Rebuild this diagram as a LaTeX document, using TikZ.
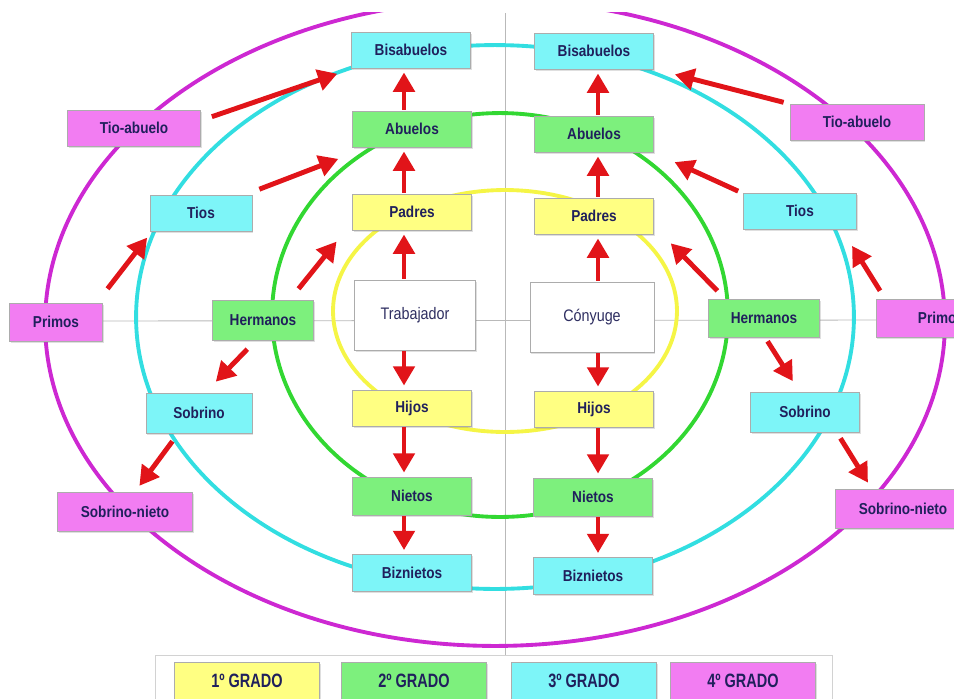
\documentclass[tikz,border=0pt]{standalone}
\usepackage{fontspec}
\setmainfont{Liberation Sans}
\newfontfamily\kinfont[FakeStretch=0.86]{Liberation Sans}
\newfontfamily\legfont[FakeStretch=0.75]{Liberation Sans}
\usetikzlibrary{arrows.meta,shadows}

\definecolor{txtnavy}{RGB}{32,32,92}
\definecolor{fillone}{RGB}{255,255,130}
\definecolor{filltwo}{RGB}{125,240,125}
\definecolor{fillthree}{RGB}{125,245,248}
\definecolor{fillfour}{RGB}{242,125,242}
\definecolor{ringone}{RGB}{245,245,70}
\definecolor{ringtwo}{RGB}{50,215,50}
\definecolor{ringthree}{RGB}{50,222,225}
\definecolor{ringfour}{RGB}{205,40,210}
\definecolor{arrowred}{RGB}{225,20,25}

\tikzset{
    kin/.style={draw=gray!65, line width=0.5pt, minimum width=2.38cm, minimum height=0.72cm,
        inner sep=1pt, text=txtnavy, font=\kinfont\bfseries\fontsize{9}{10}\selectfont,
        drop shadow={shadow xshift=0.7pt, shadow yshift=-1pt, opacity=0.25}},
    gradeone/.style={kin, fill=fillone},
    gradetwo/.style={kin, fill=filltwo},
    gradethree/.style={kin, fill=fillthree},
    gradefour/.style={kin, fill=fillfour},
    egobox/.style={kin, fill=white, minimum width=2.42cm, minimum height=1.4cm,
        font=\kinfont\fontsize{9.5}{11}\selectfont, text=txtnavy!85!gray},
    ringline/.style={line width=2.2pt},
    rel/.style={draw=arrowred, line width=2.8pt, -{Triangle[length=11pt,width=12pt]},
        shorten >=0.08cm, shorten <=0.02cm},
    axisline/.style={draw=gray!55, line width=0.5pt},
}

\begin{document}
\begin{tikzpicture}[x=0.02cm, y=-0.02cm]
    \useasboundingbox (0,0) rectangle (954,698);

    % --- guide lines ---
    \coordinate (axtop) at (505,13);
    \coordinate (axbot) at (505,655);
    \coordinate (axleft) at (102,321);
    \coordinate (axright) at (876,320);
    \coordinate (colL) at (404,0);
    \coordinate (colR) at (598,0);
    \draw[axisline] (axtop) -- (axbot);
    \draw[axisline] (axleft) -- (axright);

    % --- degree rings ---
    \begin{scope}
        \clip (0,12) rectangle (954,698);
        \draw[ringline, ringfour] (495,323) ellipse [x radius=9cm, y radius=6.46cm];
    \end{scope}
    \draw[ringline, ringthree] (495,317) ellipse [x radius=7.18cm, y radius=5.44cm];
    \draw[ringline, ringtwo] (500,315) ellipse [x radius=4.56cm, y radius=4.04cm];
    \draw[ringline, ringone] (505,311) ellipse [x radius=3.44cm, y radius=2.42cm];

    % --- relatives ---
    \node[gradethree] (bisL) at (411,50) {Bisabuelos};
    \node[gradethree] (bisR) at (594,51) {Bisabuelos};
    \node[gradefour, minimum width=2.66cm] (tioL) at (134,128) {Tio-abuelo};
    \node[gradefour, minimum width=2.68cm] (tioR) at (857,122) {Tio-abuelo};
    \node[gradetwo] (abuL) at (412,129) {Abuelos};
    \node[gradetwo] (abuR) at (594,134) {Abuelos};
    \node[gradethree, minimum width=2.04cm] (tiosL) at (201,213) {Tios};
    \node[gradethree, minimum width=2.26cm] (tiosR) at (800,211) {Tios};
    \node[gradeone] (padL) at (412,212) {Padres};
    \node[gradeone] (padR) at (594,216) {Padres};
    \node[gradefour, minimum width=1.86cm, minimum height=0.76cm] (primL) at (56,322) {Primos};
    \node[gradefour, minimum width=2.6cm, minimum height=0.76cm] (primR) at (941,318) {Primos};
    \node[gradetwo, minimum width=2.02cm, minimum height=0.8cm] (herL) at (263,320) {Hermanos};
    \node[gradetwo, minimum width=2.22cm, minimum height=0.76cm] (herR) at (764,318) {Hermanos};
    \node[egobox] (trab) at (415,315) {Trabajador};
    \node[egobox, minimum width=2.48cm] (cony) at (592,317) {Cónyuge};
    \node[gradeone] (hijL) at (412,408) {Hijos};
    \node[gradeone] (hijR) at (594,409) {Hijos};
    \node[gradethree, minimum width=2.12cm, minimum height=0.8cm] (sobL) at (199,413) {Sobrino};
    \node[gradethree, minimum width=2.18cm, minimum height=0.8cm] (sobR) at (805,412) {Sobrino};
    \node[gradefour, minimum width=2.7cm, minimum height=0.78cm] (snL) at (125,512) {Sobrino-nieto};
    \node[gradefour, minimum width=2.7cm, minimum height=0.78cm] (snR) at (903,509) {Sobrino-nieto};
    \node[gradetwo, minimum height=0.76cm] (nieL) at (412,496) {Nietos};
    \node[gradetwo, minimum height=0.76cm] (nieR) at (593,497) {Nietos};
    \node[gradethree, minimum height=0.74cm] (bizL) at (412,573) {Biznietos};
    \node[gradethree, minimum height=0.74cm] (bizR) at (593,576) {Biznietos};

    % --- straight line of descent ---
    \foreach \lo/\hi in {abuL/bisL, padL/abuL, trab/padL}
        \draw[rel] (\lo.north -| colL) -- (\hi.south -| colL);
    \foreach \hi/\lo in {trab/hijL, hijL/nieL, nieL/bizL}
        \draw[rel] (\hi.south -| colL) -- (\lo.north -| colL);
    \foreach \lo/\hi in {abuR/bisR, padR/abuR, cony/padR}
        \draw[rel] (\lo.north -| colR) -- (\hi.south -| colR);
    \foreach \hi/\lo in {cony/hijR, hijR/nieR, nieR/bizR}
        \draw[rel] (\hi.south -| colR) -- (\lo.north -| colR);

    % --- collateral line, left ---
    \draw[rel] ([shift={(10,-11)}]tioL.east) -- ([shift={(-10,4)}]bisL.south west);
    \draw[rel] ([shift={(6,-5)}]tiosL.north east) -- ([shift={(-10,10)}]abuL.south west);
    \draw[rel] ([shift={(4,-13)}]primL.north east) -- ([shift={(0,3)}]tiosL.south west);
    \draw[rel] ([shift={(-16,-10)}]herL.north east) -- ([shift={(-13,8)}]padL.south west);
    \draw[rel] ([shift={(-15,8)}]herL.south) -- ([shift={(14,-8)}]sobL.north);
    \draw[rel] ([shift={(-26,7)}]sobL.south) -- ([shift={(12,-3)}]snL.north);

    % --- collateral line, right ---
    \draw[rel] ([shift={(-5,-1)}]tioR.north west) -- ([shift={(17,4)}]bisR.south east);
    \draw[rel] ([shift={(-4,-1)}]tiosR.north west) -- ([shift={(17,8)}]abuR.south east);
    \draw[rel] ([shift={(5,-7)}]primR.north west) -- ([shift={(-7,13)}]tiosR.south east);
    \draw[rel] ([shift={(10,-7)}]herR.north west) -- ([shift={(14,6)}]padR.south east);
    \draw[rel] ([shift={(3,3)}]herR.south) -- ([shift={(-10,-7)}]sobR.north);
    \draw[rel] ([shift={(-20,5)}]sobR.south east) -- ([shift={(35,-3)}]snR.north west);

    % --- legend ---
    \draw[draw=gray!35, fill=white] (155,655) rectangle (832,715);
    \foreach \i/\cx/\col/\txt in {1/247/fillone/1º GRADO, 2/414/filltwo/2º GRADO,
                                  3/584/fillthree/3º GRADO, 4/743/fillfour/4º GRADO}
        \node[kin, fill=\col, minimum width=2.9cm, minimum height=0.74cm,
              font=\legfont\bfseries\fontsize{11}{12}\selectfont] (leg\i) at (\cx,681) {\txt};
\end{tikzpicture}
\end{document}
